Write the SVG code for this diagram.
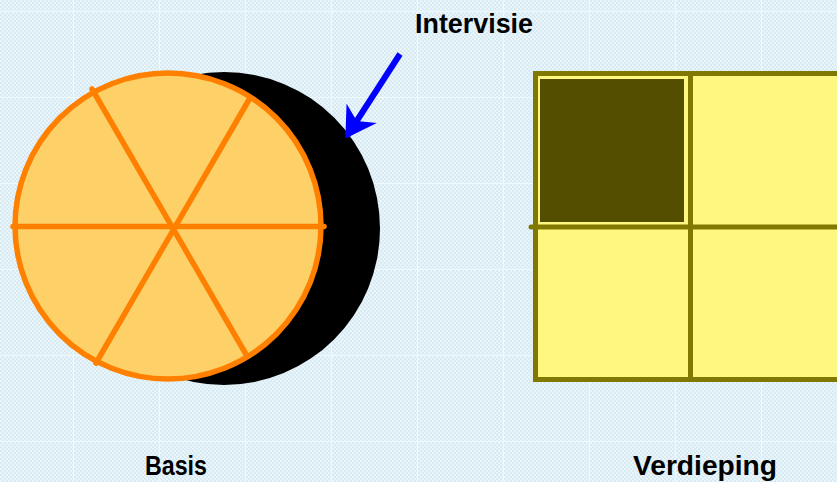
<svg xmlns="http://www.w3.org/2000/svg" width="837" height="482" viewBox="0 0 837 482">
  <style>
    .lbl { font-family: "Liberation Sans", Arial, sans-serif; font-weight: bold; font-size: 27px; fill: #000; }
    .seg { stroke: #ff8000; stroke-width: 5.5; stroke-linecap: round; fill: none; }
    .grid { stroke: #807800; stroke-width: 5; stroke-linecap: round; }
    .bgline { stroke: #f0f9fc; stroke-width: 1; }
  </style>
  <defs>
    <pattern id="dots" width="4" height="4" patternUnits="userSpaceOnUse">
      <rect width="4" height="4" fill="#d8ebf3"/>
      <rect x="0" y="0" width="2" height="2" fill="#e9f5fa"/>
      <rect x="2" y="2" width="2" height="2" fill="#e9f5fa"/>
    </pattern>
    <marker id="arrowhead" markerWidth="6" markerHeight="6" refX="4.5" refY="3" orient="auto" markerUnits="strokeWidth">
      <path d="M0,0 L5,3 L0,6 L1.5,3 Z" fill="#0000ff"/>
    </marker>
  </defs>

  <g id="background">
    <rect width="837" height="482" fill="url(#dots)"/>
    <g class="bgline">
      <line x1="0" y1="11.5" x2="837" y2="11.5"/>
      <line x1="0" y1="97.5" x2="837" y2="97.5"/>
      <line x1="0" y1="183.5" x2="837" y2="183.5"/>
      <line x1="0" y1="269.5" x2="837" y2="269.5"/>
      <line x1="0" y1="355.5" x2="837" y2="355.5"/>
      <line x1="0" y1="441.5" x2="837" y2="441.5"/>
      <line x1="73.5" y1="0" x2="73.5" y2="482"/>
      <line x1="159.5" y1="0" x2="159.5" y2="482"/>
      <line x1="245.5" y1="0" x2="245.5" y2="482"/>
      <line x1="331.5" y1="0" x2="331.5" y2="482"/>
      <line x1="417.5" y1="0" x2="417.5" y2="482"/>
      <line x1="503.5" y1="0" x2="503.5" y2="482"/>
      <line x1="589.5" y1="0" x2="589.5" y2="482"/>
      <line x1="675.5" y1="0" x2="675.5" y2="482"/>
      <line x1="761.5" y1="0" x2="761.5" y2="482"/>
    </g>
  </g>

  <g id="intervisie-shadow">
    <ellipse cx="224" cy="228.5" rx="156" ry="156.5" fill="#000"/>
  </g>

  <g id="basis-circle">
    <circle cx="168" cy="226" r="153" fill="#fdd068" stroke="#ff8000" stroke-width="5.5"/>
    <line class="seg" x1="13" y1="226.5" x2="324" y2="226.5"/>
    <line class="seg" x1="92" y1="89" x2="247" y2="356"/>
    <line class="seg" x1="250" y1="98" x2="96" y2="363"/>
  </g>

  <g id="verdieping-grid">
    <rect class="grid" x="535.5" y="73.5" width="320" height="306" style="fill:#fff880"/>
    <rect x="539" y="78" width="146" height="145" fill="#544f00" stroke="#fff880" stroke-width="2"/>
    <line class="grid" x1="531" y1="227" x2="837" y2="227"/>
    <line class="grid" x1="690.5" y1="73.5" x2="690.5" y2="379.5"/>
  </g>

  <g id="connectors">
    <line x1="400" y1="54" x2="347" y2="136" stroke="#0000ff" stroke-width="6" marker-end="url(#arrowhead)"/>
  </g>

  <g id="labels">
    <text class="lbl" x="474" y="33" text-anchor="middle" textLength="118" lengthAdjust="spacingAndGlyphs">Intervisie</text>
    <text class="lbl" x="176" y="475" text-anchor="middle" textLength="62" lengthAdjust="spacingAndGlyphs">Basis</text>
    <text class="lbl" x="705" y="475" text-anchor="middle" textLength="144" lengthAdjust="spacingAndGlyphs">Verdieping</text>
  </g>
</svg>
